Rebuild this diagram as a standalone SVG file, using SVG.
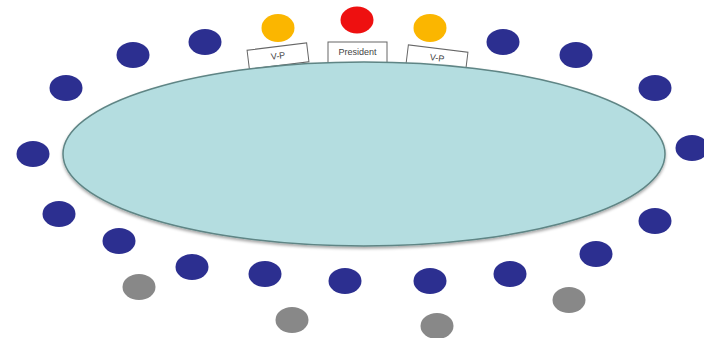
<svg xmlns="http://www.w3.org/2000/svg" width="704" height="338" viewBox="0 0 704 338">
<defs>
<style>
.blue{fill:#2c2f90}
.gray{fill:#888888}
.vp{fill:#fbb600}
.pres{fill:#ee1010}
.lbl{fill:#ffffff;stroke:#666;stroke-width:1}
.t{font-family:"Liberation Sans",Arial,sans-serif;font-size:9px;fill:#444;text-anchor:middle}
</style>
<filter id="sh" x="-5%" y="-10%" width="110%" height="125%">
<feDropShadow dx="0" dy="2" stdDeviation="1.5" flood-color="#000" flood-opacity="0.35"/>
</filter>
</defs>
<rect width="704" height="338" fill="#ffffff"/>
<g id="label-vp-left"><g transform="translate(278,56) rotate(-7)"><rect class="lbl" x="-30" y="-9.5" width="60" height="19"/><text class="t" x="0" y="3">V-P</text></g></g>
<g id="label-president"><rect class="lbl" x="328" y="42" width="59" height="21"/><text class="t" x="357.5" y="55">President</text></g>
<g id="label-vp-right"><g transform="translate(437,58) rotate(7)"><rect class="lbl" x="-30" y="-9.5" width="60" height="19"/><text class="t" x="0" y="3">V-P</text></g></g>
<g id="table"><ellipse cx="364" cy="154" rx="301" ry="92" fill="#b4dde0" stroke="#5f8585" stroke-width="1.5" filter="url(#sh)"/></g>
<g id="seat-president"><ellipse class="pres" cx="357" cy="20" rx="16.5" ry="13.5"/></g>
<g id="seat-vp-left"><ellipse class="vp" cx="278" cy="28" rx="16.5" ry="14"/></g>
<g id="seat-vp-right"><ellipse class="vp" cx="430" cy="28" rx="16.5" ry="14"/></g>
<g id="seat-1"><ellipse class="blue" cx="205" cy="42" rx="16.5" ry="13"/></g>
<g id="seat-2"><ellipse class="blue" cx="133" cy="55" rx="16.5" ry="13"/></g>
<g id="seat-3"><ellipse class="blue" cx="66" cy="88" rx="16.5" ry="13"/></g>
<g id="seat-4"><ellipse class="blue" cx="33" cy="154" rx="16.5" ry="13"/></g>
<g id="seat-5"><ellipse class="blue" cx="59" cy="214" rx="16.5" ry="13"/></g>
<g id="seat-6"><ellipse class="blue" cx="119" cy="241" rx="16.5" ry="13"/></g>
<g id="seat-7"><ellipse class="blue" cx="192" cy="267" rx="16.5" ry="13"/></g>
<g id="seat-8"><ellipse class="blue" cx="265" cy="274" rx="16.5" ry="13"/></g>
<g id="seat-9"><ellipse class="blue" cx="345" cy="281" rx="16.5" ry="13"/></g>
<g id="seat-10"><ellipse class="blue" cx="430" cy="281" rx="16.5" ry="13"/></g>
<g id="seat-11"><ellipse class="blue" cx="510" cy="274" rx="16.5" ry="13"/></g>
<g id="seat-12"><ellipse class="blue" cx="596" cy="254" rx="16.5" ry="13"/></g>
<g id="seat-13"><ellipse class="blue" cx="655" cy="221" rx="16.5" ry="13"/></g>
<g id="seat-14"><ellipse class="blue" cx="692" cy="148" rx="16.5" ry="13"/></g>
<g id="seat-15"><ellipse class="blue" cx="655" cy="88" rx="16.5" ry="13"/></g>
<g id="seat-16"><ellipse class="blue" cx="576" cy="55" rx="16.5" ry="13"/></g>
<g id="seat-17"><ellipse class="blue" cx="503" cy="42" rx="16.5" ry="13"/></g>
<g id="guest-1"><ellipse class="gray" cx="139" cy="287" rx="16.5" ry="13"/></g>
<g id="guest-2"><ellipse class="gray" cx="292" cy="320" rx="16.5" ry="13"/></g>
<g id="guest-3"><ellipse class="gray" cx="437" cy="326" rx="16.5" ry="13"/></g>
<g id="guest-4"><ellipse class="gray" cx="569" cy="300" rx="16.5" ry="13"/></g>
</svg>
